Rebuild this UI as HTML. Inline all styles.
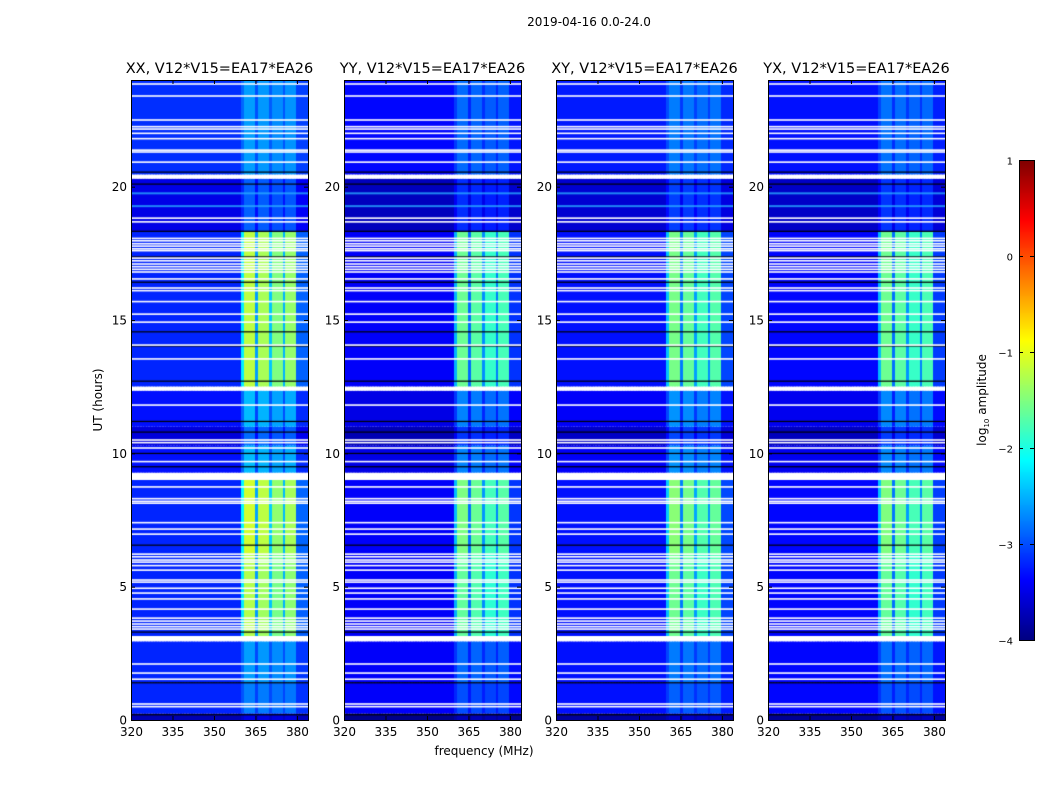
<!DOCTYPE html>
<html><head><meta charset="utf-8">
<style>
html,body{margin:0;padding:0;background:#fff;}
#wrap{position:relative;width:1050px;height:800px;overflow:hidden;font-family:"DejaVu Sans","Liberation Sans",sans-serif;}
canvas{position:absolute;}
svg{position:absolute;left:0;top:0;font-family:"DejaVu Sans","Liberation Sans",sans-serif;}
</style></head>
<body>
<div id="wrap">
<canvas id="c0" width="177" height="640" style="left:131px;top:80px"></canvas>
<canvas id="c1" width="177" height="640" style="left:344px;top:80px"></canvas>
<canvas id="c2" width="177" height="640" style="left:556px;top:80px"></canvas>
<canvas id="c3" width="177" height="640" style="left:768px;top:80px"></canvas>
<canvas id="cb" width="15" height="480" style="left:1019px;top:160px"></canvas>
<svg id="ov" width="1050" height="800"></svg>
</div>
<script>
// ---- data ----
const panelTitles = ["XX, V12*V15=EA17*EA26","YY, V12*V15=EA17*EA26","XY, V12*V15=EA17*EA26","YX, V12*V15=EA17*EA26"];
const panelLefts = [131,344,556,768];
const xTicks = [320,335,350,365,380];
const yTicks = [0,5,10,15,20];
const cbTicks = [1,0,-1,-2,-3,-4];
// relative RFI profile per 1 MHz bin, 320..383 MHz
const freqProfile = [0,0,0,0,0,0,0,0,0,0, 0,0,0,0,0,0,0,0,0,0, 0,0,0,0,0,0,0,0,0,0, 0,0,0,0,0,0,0,0,0,0,
  0.5,1,1,1,1,0.3,0.95,0.95,0.95,0.95, 0.4,0.85,0.85,0.85,0.85,0.35,0.9,0.9,0.9,0.9, 0.15,0.15,0.15,0.15];
// time segments: start hour, end hour, background log amp, band gain
const segStart = [0,0.25,1.4,3.15,6.2,9.27,10.3,11.0,12.5,18.3,20.45];
const segEnd   = [0.25,1.4,2.95,6.2,9.0,10.3,11.0,12.35,18.3,20.3,24];
const segBg    = [-3.7,-3.15,-3.15,-3.15,-3.15,-3.25,-3.5,-3.25,-3.15,-3.45,-3.1];
const segBand  = [0.25,0.45,0.6,1.95,2.1,0.85,0.7,0.85,2.0,0.6,0.55];
const panelBgOffset = [-0.05,-0.25,-0.15,-0.2];
const panelBandScale = [1.0,0.9,0.88,0.88];
const whiteLines = [0.5,0.6,1.53,1.76,2.1,3.41,3.5,3.6,3.71,3.82,4.16,4.54,4.76,4.94,5.17,5.25,5.62,5.79,5.92,6.0,6.12,6.22,6.97,7.16,7.4,8.13,8.2,8.3,8.74,9.69,10.2,10.4,10.5,11.81,13.54,14.06,14.92,15.22,15.69,16.1,16.2,16.54,16.8,16.9,17.0,17.1,17.22,17.32,17.6,17.67,17.77,17.86,17.97,18.06,18.68,18.82,20.92,21.3,21.37,21.8,22.0,22.16,22.25,22.5,23.4,23.85];
const whiteBandStart = [2.95,9.0,12.35,20.3];
const whiteBandEnd = [3.15,9.27,12.5,20.45];
const blackLines = [0.2,1.4,3.3,6.56,9.5,10.0,10.8,11.2,12.71,14.03,14.56,16.42,17.37,18.33,20.1,20.55];
const cyanLines = [19.27,19.75];

// ---- scales ----
const H0=80,H=640,XS=177/64;
const yOf = h => H - h*H/24;
const xOf = f => (f-320)*XS;
function jet(v){
  let x=Math.max(0,Math.min(1,(v+4)/5));
  const r=Math.max(0,Math.min(1,Math.min(4*x-1.5,-4*x+4.5)));
  const g=Math.max(0,Math.min(1,Math.min(4*x-0.5,-4*x+3.5)));
  const b=Math.max(0,Math.min(1,Math.min(4*x+0.5,-4*x+2.5)));
  return `rgb(${Math.round(r*255)},${Math.round(g*255)},${Math.round(b*255)})`;
}
for(let p=0;p<4;p++){
  const ctx=document.getElementById('c'+p).getContext('2d');
  ctx.fillStyle='#fff';ctx.fillRect(0,0,177,640);
  for(let s=0;s<segStart.length;s++){
    const y1=yOf(segEnd[s]), y2=yOf(segStart[s]);
    for(let f=0;f<freqProfile.length;f++){
      const v=segBg[s]+panelBgOffset[p]+freqProfile[f]*segBand[s]*panelBandScale[p];
      ctx.fillStyle=jet(v);
      ctx.fillRect(Math.floor(xOf(320+f)),y1,Math.ceil(XS)+1,y2-y1);
    }
  }
  ctx.fillStyle='rgba(40,170,255,0.8)';
  cyanLines.forEach(h=>ctx.fillRect(0,yOf(h)-1,177,2));
  ctx.fillStyle='#000';
  blackLines.forEach(h=>ctx.fillRect(0,yOf(h)-0.5,177,1.2));
  ctx.fillStyle='#fff';
  whiteLines.forEach(h=>ctx.fillRect(0,yOf(h)-0.8,177,1.6));
  whiteBandStart.forEach((h,i)=>ctx.fillRect(0,yOf(whiteBandEnd[i]),177,yOf(h)-yOf(whiteBandEnd[i])));
}
const cb=document.getElementById('cb').getContext('2d');
for(let i=0;i<480;i++){cb.fillStyle=jet(1-5*i/480);cb.fillRect(0,i,15,1);}

// ---- SVG overlay ----
const NS='http://www.w3.org/2000/svg';
const svg=document.getElementById('ov');
function mk(tag,attrs,text){const e=document.createElementNS(NS,tag);for(const k in attrs)e.setAttribute(k,attrs[k]);if(text!==undefined)e.textContent=text;svg.appendChild(e);return e;}
let t=mk('text',{x:589,y:26,'font-size':12,'text-anchor':'middle',fill:'#000'},'2019-04-16 0.0-24.0');


panelLefts.forEach((L,p)=>{
  const r=mk('rect',{x:L+0.5,y:H0+0.5,width:177,height:640,fill:'none',stroke:'#000','stroke-width':1});
  
  
  const tt=mk('text',{x:L+88.5,y:73,'font-size':14.5,'text-anchor':'middle',fill:'#000'},panelTitles[p]);
  
  
  xTicks.forEach(v=>{
    const x=L+xOf(v)+0.5;
    mk('line',{x1:x,x2:x,y1:H0+H,y2:H0+H-4,stroke:'#000'});
    mk('line',{x1:x,x2:x,y1:H0,y2:H0+4,stroke:'#000'});
    const l=mk('text',{x:x,y:H0+H+16,'font-size':12,'text-anchor':'middle',fill:'#000'},String(v));
    
    
  });
  yTicks.forEach(v=>{
    const y=H0+yOf(v)+0.5;
    mk('line',{x1:L,x2:L+4,y1:y,y2:y,stroke:'#000'});
    mk('line',{x1:L+177,x2:L+173,y1:y,y2:y,stroke:'#000'});
    const l=mk('text',{x:L-4,y:y+4,'font-size':12,'text-anchor':'end',fill:'#000'},String(v));
    
    
  });
});
t=mk('text',{x:484,y:755,'font-size':12,'text-anchor':'middle',fill:'#000'},'frequency (MHz)');


t=mk('text',{x:102,y:400,'font-size':12,'text-anchor':'middle',fill:'#000',transform:'rotate(-90 102 400)'},'UT (hours)');


const cr=mk('rect',{x:1019.5,y:160.5,width:15,height:480,fill:'none',stroke:'#000'});


cbTicks.forEach((v,i)=>{
  const y=160+(1-v)*96+0.5;
  mk('line',{x1:1019,x2:1023,y1:y,y2:y,stroke:'#000'});
  mk('line',{x1:1034,x2:1030,y1:y,y2:y,stroke:'#000'});
  const l=mk('text',{x:1013,y:y+4,'font-size':10,'text-anchor':'end',fill:'#000'},v<0?'\u2212'+(-v):String(v));
  
  
});
t=mk('text',{x:986,y:400,'font-size':12,'text-anchor':'middle',fill:'#000',transform:'rotate(-90 986 400)'});
t.innerHTML='log<tspan font-size="7" dy="3">10</tspan><tspan dy="-3"> amplitude</tspan>';


</script>
</body></html>
